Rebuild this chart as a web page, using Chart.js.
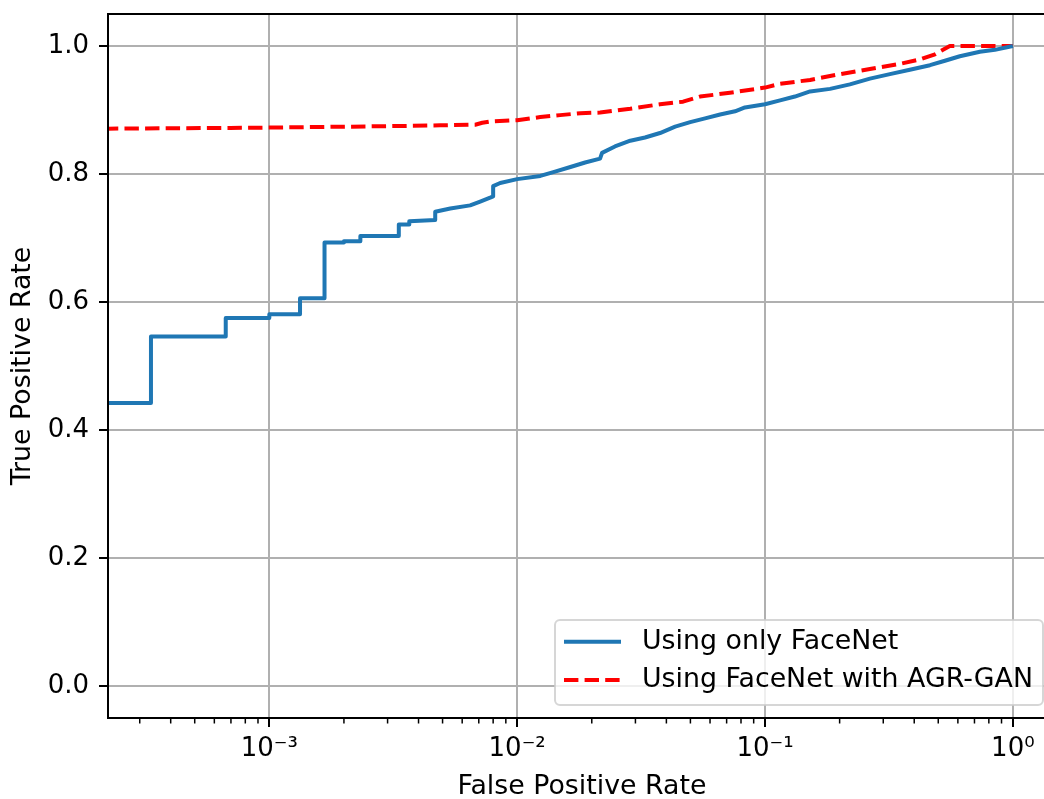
<!DOCTYPE html>
<html>
<head>
<meta charset="utf-8">
<script src="https://cdn.jsdelivr.net/npm/chart.js@4.4.1/dist/chart.umd.min.js"></script>
<style>
html,body{margin:0;padding:0;background:#fff;overflow:hidden;width:1044px;height:799px}
#wrap{position:absolute;left:0;top:0;width:1060px;height:799px}
</style>
</head>
<body>
<div id="wrap"><canvas id="c" width="1060" height="799"></canvas></div>
<script>
// ---- data ----
const seriesNames = ['Using only FaceNet', 'Using FaceNet with AGR-GAN'];

const fprBlue = [0.0001, 0.000333, 0.000333, 0.000667, 0.000667, 0.001, 0.001, 0.00133, 0.00133, 0.00167,
  0.00167, 0.002, 0.002, 0.00233, 0.00233, 0.00333, 0.00333, 0.00367, 0.00367, 0.00467,
  0.00467, 0.00537, 0.00646, 0.00709, 0.00778, 0.0080, 0.0080, 0.00854, 0.0100, 0.0124,
  0.0140, 0.0164, 0.0188, 0.0216, 0.0220, 0.0248, 0.0286, 0.0328, 0.0377, 0.0434,
  0.0499, 0.0573, 0.0659, 0.0757, 0.083, 0.100, 0.115, 0.132, 0.152, 0.183,
  0.220, 0.265, 0.319, 0.384, 0.463, 0.532, 0.611, 0.736, 0.846, 1.0];
const tprBlue = [0.442, 0.442, 0.546, 0.546, 0.575, 0.575, 0.581, 0.581, 0.606, 0.606,
  0.693, 0.693, 0.695, 0.695, 0.703, 0.703, 0.721, 0.721, 0.726, 0.728,
  0.741, 0.746, 0.751, 0.757, 0.763, 0.765, 0.781, 0.786, 0.792, 0.797,
  0.803, 0.811, 0.818, 0.824, 0.833, 0.843, 0.852, 0.857, 0.864, 0.874,
  0.881, 0.887, 0.893, 0.898, 0.904, 0.909, 0.915, 0.921, 0.929, 0.933,
  0.940, 0.949, 0.956, 0.963, 0.970, 0.977, 0.984, 0.991, 0.994, 1.0];

const fprRed = [0.0001, 0.000696, 0.001, 0.00212, 0.00338, 0.00489, 0.00677, 0.00723, 0.00778, 0.01,
  0.0124, 0.0149, 0.018, 0.0216, 0.0286, 0.0377, 0.0467, 0.0547, 0.0722, 0.1,
  0.115, 0.152, 0.2006, 0.265, 0.35, 0.422, 0.485, 0.557, 1.0];
const tprRed = [0.870, 0.872, 0.8725, 0.874, 0.875, 0.876, 0.877, 0.880, 0.882, 0.884,
  0.889, 0.892, 0.895, 0.896, 0.902, 0.909, 0.913, 0.921, 0.927, 0.935,
  0.941, 0.947, 0.956, 0.964, 0.972, 0.979, 0.987, 1.0, 1.0];

const xTicks = [0.001, 0.01, 0.1, 1];
const xTickLabels = ['10\u207B\u00B3', '10\u207B\u00B2', '10\u207B\u00B9', '10\u2070'];
const yTicks = [0, 0.2, 0.4, 0.6, 0.8, 1.0];
const yTickLabels = ['0.0', '0.2', '0.4', '0.6', '0.8', '1.0'];
const xTitle = 'False Positive Rate';
const yTitle = 'True Positive Rate';

// ---- styling ----
const FONT = '"DejaVu Sans", "Liberation Sans", sans-serif';
const FS = 26;     // tick labels
const FS_T = 26.8; // axis titles and legend
Chart.defaults.color = '#000';
Chart.defaults.font.family = FONT;
Chart.defaults.font.size = FS;

// minor log ticks (2..9 x each decade) drawn as short marks
const minorTicks = [];
for (let e = -4; e <= 0; e++) for (let m = 2; m <= 9; m++) minorTicks.push(m * Math.pow(10, e));

const decorations = {
  id: 'decorations',
  afterDatasetsDraw(chart) {
    const {ctx, chartArea: a} = chart;
    const xs = chart.scales.x;
    ctx.save();
    ctx.strokeStyle = '#000';
    ctx.lineWidth = 1.5;
    minorTicks.forEach(v => {
      const px = xs.getPixelForValue(v);
      if (px < a.left || px > a.right) return;
      ctx.beginPath();
      ctx.moveTo(px, a.bottom);
      ctx.lineTo(px, a.bottom + 5.5);
      ctx.stroke();
    });
    ctx.lineWidth = 2;
    ctx.beginPath();
    ctx.moveTo(a.left, a.top); ctx.lineTo(a.right, a.top);
    ctx.moveTo(a.right, a.top); ctx.lineTo(a.right, a.bottom);
    ctx.moveTo(a.left, a.top); ctx.lineTo(a.left, a.bottom);
    ctx.moveTo(a.left, a.bottom); ctx.lineTo(a.right, a.bottom);
    ctx.stroke();
    ctx.restore();
  },
  afterDraw(chart) {
    const {ctx, chartArea: a} = chart;
    const ds = chart.data.datasets;
    ctx.save();
    ctx.font = FS_T + 'px ' + FONT;
    const tw = Math.max(...ds.map(d => ctx.measureText(d.label).width));
    const pad = 10, hl = 57, htp = 20, rowH = 38.3, h = 85;
    const w = pad + hl + htp + tw + pad;
    const right = a.right - 13, bottom = a.bottom - 13;
    const left = right - w, top = bottom - h, r = 5;
    ctx.beginPath();
    ctx.moveTo(left + r, top);
    ctx.arcTo(right, top, right, bottom, r);
    ctx.arcTo(right, bottom, left, bottom, r);
    ctx.arcTo(left, bottom, left, top, r);
    ctx.arcTo(left, top, right, top, r);
    ctx.closePath();
    ctx.fillStyle = 'rgba(255,255,255,0.8)';
    ctx.fill();
    ctx.strokeStyle = 'rgba(204,204,204,0.8)';
    ctx.lineWidth = 2;
    ctx.stroke();
    ds.forEach((d, i) => {
      const y = top + 21.7 + i * rowH;
      ctx.beginPath();
      ctx.setLineDash(d.borderDash || []);
      ctx.lineCap = 'butt';
      ctx.strokeStyle = d.borderColor;
      ctx.lineWidth = d.borderWidth;
      ctx.moveTo(left + pad - 1, y);
      ctx.lineTo(left + pad - 1 + hl, y);
      ctx.stroke();
      ctx.setLineDash([]);
      ctx.fillStyle = '#000';
      ctx.textAlign = 'left';
      ctx.textBaseline = 'middle';
      ctx.fillText(d.label, left + pad + hl + htp, y);
    });
    ctx.restore();
  }
};

function noPad(s) { s.paddingTop = 0; s.paddingBottom = 0; s.paddingLeft = 0; s.paddingRight = 0; }

new Chart(document.getElementById('c'), {
  type: 'line',
  data: {
    datasets: [
      {
        label: seriesNames[0],
        data: fprBlue.map((x, i) => ({x, y: tprBlue[i]})),
        borderColor: '#1f77b4',
        borderWidth: 4,
        pointRadius: 0,
        tension: 0,
        clip: 0,
        borderCapStyle: 'butt',
        borderJoinStyle: 'round'
      },
      {
        label: seriesNames[1],
        data: fprRed.map((x, i) => ({x, y: tprRed[i]})),
        borderColor: '#ff0000',
        borderWidth: 4,
        borderDash: [14.4, 6.2],
        pointRadius: 0,
        tension: 0,
        clip: 0,
        borderCapStyle: 'butt',
        borderJoinStyle: 'round'
      }
    ]
  },
  options: {
    responsive: false,
    devicePixelRatio: 1,
    animation: false,
    events: [],
    layout: {padding: {left: 0, top: 14, right: 4, bottom: 0}},
    plugins: {legend: {display: false}, tooltip: {enabled: false}, title: {display: false}},
    scales: {
      x: {
        type: 'logarithmic',
        position: 'bottom',
        min: 2.234e-4,
        max: 1.493,
        afterBuildTicks: s => { s.ticks = xTicks.map(v => ({value: v})); },
        afterFit: s => { s.height = 81; noPad(s); },
        ticks: {
          autoSkip: false, maxRotation: 0, minRotation: 0, padding: 9,
          font: {size: FS, lineHeight: 1},
          callback: (v, i) => xTickLabels[i]
        },
        grid: {color: '#b0b0b0', lineWidth: 2, tickLength: 9, tickColor: '#000', tickWidth: 2},
        border: {display: true, color: '#000', width: 2},
        title: {display: true, text: xTitle, font: {size: FS_T, lineHeight: 1}, padding: {top: 0, bottom: -1}}
      },
      y: {
        type: 'linear',
        position: 'left',
        min: -0.05,
        max: 1.05,
        afterBuildTicks: s => { s.ticks = yTicks.map(v => ({value: v})); },
        afterFit: s => { s.width = 108; noPad(s); },
        ticks: {
          autoSkip: false, padding: 10,
          font: {size: FS, lineHeight: 1},
          callback: (v, i) => yTickLabels[i]
        },
        grid: {color: '#b0b0b0', lineWidth: 2, tickLength: 9, tickColor: '#000', tickWidth: 2},
        border: {display: true, color: '#000', width: 2},
        title: {display: true, text: yTitle, font: {size: FS_T, lineHeight: 1}, padding: {top: 10, bottom: 0}}
      }
    }
  },
  plugins: [decorations]
});
</script>
</body>
</html>
